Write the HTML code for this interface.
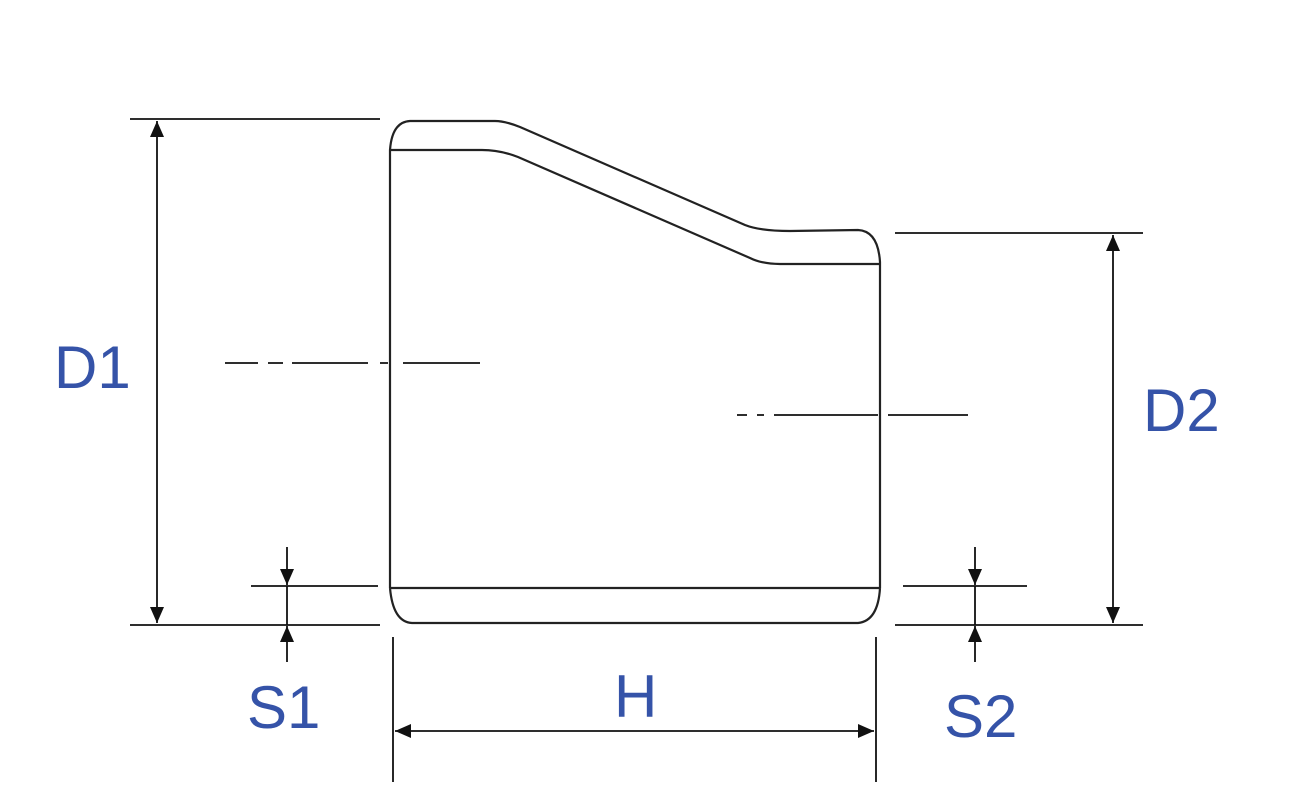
<!DOCTYPE html>
<html><head><style>
html,body{margin:0;padding:0;background:#fff;}
svg{display:block}
text{font-family:"Liberation Sans",sans-serif;fill:#3553a8;font-size:60px}
</style></head><body>
<svg width="1296" height="812" viewBox="0 0 1296 812">
<defs>
<marker id="a" viewBox="0 0 10 10" refX="10" refY="5" markerWidth="16" markerHeight="14" markerUnits="userSpaceOnUse" orient="auto-start-reverse" preserveAspectRatio="none"><path d="M0,0 L10,5 L0,10 Z" fill="#111"/></marker>
</defs>
<g stroke="#222" stroke-width="2.2" fill="none">
<path d="M390,588 L390,150 Q392,122 410,121 L495,121 Q505,121 520,127 L745,225 Q760,231 790,231 L858,230 Q878,231 880,262 L880,588"/>
<path d="M390,150 L482,150 Q500,150 518,157 L750,258 Q762,264 780,264 L880,264"/>
<path d="M390,588 L880,588"/>
<path d="M390,588 Q393,622 412,623 L858,623 Q878,621 880,588"/>
</g>
<g stroke="#111" stroke-width="1.8" fill="none">
<line x1="130" y1="119" x2="380" y2="119"/>
<line x1="130" y1="625" x2="380" y2="625"/>
<line x1="157" y1="121" x2="157" y2="623" marker-start="url(#a)" marker-end="url(#a)"/>
<line x1="895" y1="233" x2="1143" y2="233"/>
<line x1="895" y1="625" x2="1143" y2="625"/>
<line x1="1113" y1="235" x2="1113" y2="623" marker-start="url(#a)" marker-end="url(#a)"/>
<line x1="251" y1="586" x2="378" y2="586"/>
<line x1="287" y1="547" x2="287" y2="585" marker-end="url(#a)"/>
<line x1="287" y1="662" x2="287" y2="626" marker-end="url(#a)"/>
<line x1="287" y1="586" x2="287" y2="625"/>
<line x1="903" y1="586" x2="1027" y2="586"/>
<line x1="975" y1="547" x2="975" y2="585" marker-end="url(#a)"/>
<line x1="975" y1="662" x2="975" y2="626" marker-end="url(#a)"/>
<line x1="975" y1="586" x2="975" y2="625"/>
<line x1="393" y1="637" x2="393" y2="782"/>
<line x1="876" y1="637" x2="876" y2="782"/>
<line x1="395" y1="731" x2="874" y2="731" marker-start="url(#a)" marker-end="url(#a)"/>
<path d="M225,363 H258 M268,363 H283 M292,363 H368 M380,363 H388 M403,363 H480"/>
<path d="M737,415 H747 M757,415 H764 M774,415 H878 M888,415 H968"/>
</g>
<text x="54" y="388">D1</text>
<text x="1143" y="431">D2</text>
<text x="247" y="728">S1</text>
<text x="614" y="717">H</text>
<text x="944" y="737">S2</text>
</svg>
</body></html>
